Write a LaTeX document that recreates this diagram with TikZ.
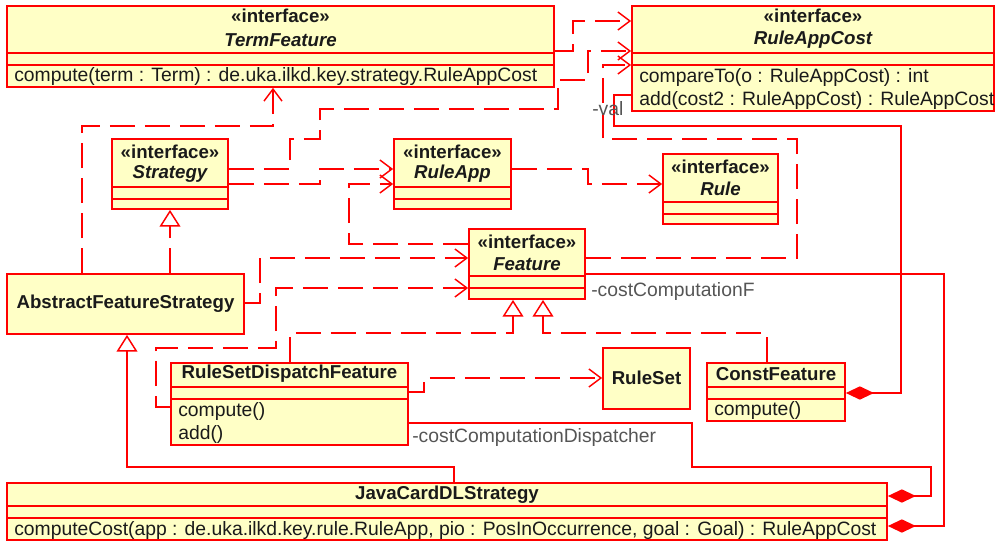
\documentclass[tikz,border=0pt]{standalone}
\usepackage{fontspec}
\setmainfont{Liberation Sans}
\usetikzlibrary{arrows.meta,fit}
\definecolor{umlfill}{HTML}{FFFFC6}
\definecolor{umlred}{HTML}{FF0000}
\definecolor{txt}{HTML}{1A1A1A}
\definecolor{lbl}{HTML}{555555}
% class box spanning two corner points (pixel grid, y downwards)
\newcommand\umlbox[5]{\node[cls, fit={(#2,#3) (#4,#5)}] (#1) {};}
% compartment separator of a box at height #2
\newcommand\umlsep[2]{\draw[sepline] (#1.west |- 0,#2) -- (#1.east |- 0,#2);}
\begin{document}
\begin{tikzpicture}[x=0.75pt,y=-0.75pt,
  cls/.style={draw=umlred, fill=umlfill, line width=1.3pt, rectangle, inner sep=0pt},
  sepline/.style={draw=umlred, line width=1.3pt},
  basefont/.style={text=txt, inner sep=0pt},
  stereo/.style={basefont, font=\bfseries\fontsize{14}{16}\selectfont},
  iname/.style={basefont, font=\bfseries\itshape\fontsize{14}{16}\selectfont},
  cname/.style={basefont, font=\bfseries\fontsize{14}{16}\selectfont},
  member/.style={basefont, font=\fontsize{14.5}{16}\selectfont, anchor=west},
  role/.style={inner sep=0pt, text=lbl, font=\fontsize{14.5}{16}\selectfont, anchor=west},
  conn/.style={draw=umlred, line width=1.1pt},
  dep/.style={conn, dash pattern=on 18.75pt off 7.5pt, -{Straight Barb[length=9pt,width=13.5pt]}},
  real/.style={conn, dash pattern=on 18.75pt off 7.5pt, -{Triangle[length=12.5pt,width=15.5pt,fill=white]}},
  gen/.style={conn, -{Triangle[length=12.5pt,width=15.5pt,fill=white]}},
  comp/.style={conn, {Diamond[length=21pt,width=10pt]}-},
]
\useasboundingbox (0,0) rectangle (996,543);

% ---------- classes ----------
\umlbox{tf}{7}{6}{554}{87}
\umlsep{tf}{53}\umlsep{tf}{65}
\node[stereo] (tfst) at (280.5,16) {«interface»};
\node[iname] (tfnm) at (280.5,40) {TermFeature};
\node[member] (tfm1) at (14,76) {compute(term : Term) : de.uka.ilkd.key.strategy.RuleAppCost};

\umlbox{rac}{632}{6}{994}{111}
\umlsep{rac}{53}\umlsep{rac}{65}
\node[stereo] (racst) at (813,16) {«interface»};
\node[iname] (racnm) at (813,40) {RuleAppCost};
\node[member] (racm1) at (639,77) {compareTo(o : RuleAppCost) : int};
\node[member] (racm2) at (639,100) {add(cost2 : RuleAppCost) : RuleAppCost};

\umlbox{str}{112}{139}{228}{209}
\umlsep{str}{187}\umlsep{str}{199}
\node[stereo] (strst) at (170,152) {«interface»};
\node[iname] (strnm) at (170,174) {Strategy};

\umlbox{ra}{394}{139}{511}{209}
\umlsep{ra}{187}\umlsep{ra}{199}
\node[stereo] (rast) at (452.5,152) {«interface»};
\node[iname] (ranm) at (452.5,174) {RuleApp};

\umlbox{rule}{663}{154}{778}{224}
\umlsep{rule}{202}\umlsep{rule}{214}
\node[stereo] (rulest) at (720.5,167) {«interface»};
\node[iname] (rulenm) at (720.5,189) {Rule};

\umlbox{feat}{469}{229}{585}{299}
\umlsep{feat}{276}\umlsep{feat}{288}
\node[stereo] (featst) at (527,242) {«interface»};
\node[iname] (featnm) at (527,264) {Feature};

\umlbox{afs}{7}{274}{244}{334}
\node[cname] (afsnm) at (125.5,304) {AbstractFeatureStrategy};

\umlbox{rsdf}{171}{363}{408}{445}
\umlsep{rsdf}{387}\umlsep{rsdf}{399}
\node[cname] (rsdfnm) at (289.5,374) {RuleSetDispatchFeature};
\node[member] (rsdfm1) at (178,411) {compute()};
\node[member] (rsdfm2) at (178,434) {add()};

\umlbox{rs}{603}{348}{690}{409}
\node[cname] (rsnm) at (646.5,378) {RuleSet};

\umlbox{cf}{707}{363}{845}{421}
\umlsep{cf}{387}\umlsep{cf}{399}
\node[cname] (cfnm) at (776,374) {ConstFeature};
\node[member] (cfm1) at (714,410) {compute()};

\umlbox{jc}{7}{483}{887}{540}
\umlsep{jc}{506}\umlsep{jc}{518}
\node[cname] (jcnm) at (447,494.5) {JavaCardDLStrategy};
\node[member] (jcm1) at (14,530) {computeCost(app : de.uka.ilkd.key.rule.RuleApp, pio : PosInOccurrence, goal : Goal) : RuleAppCost};

% ---------- dependencies ----------
\draw[dep] (tf.east |- 0,51) -- (573,51) -- (573,21) -- (rac.west |- 0,21);
\draw[dep] (str.east |- 0,169) -- (290,169) -- (290,139) -- (320,139) -- (320,109)
  -- (558,109) -- (558,80) -- (588,80) -- (588,51) -- (rac.west |- 0,51);
\draw[dep] (feat.east |- 0,258) -- (797,258) -- (797,139) -- (603,139) -- (603,65) -- (rac.west |- 0,65);
\draw[dep] (str.east |- 0,184) -- (320,184) -- (320,169) -- (ra.west |- 0,169);
\draw[dep] (feat.west |- 0,244) -- (349,244) -- (349,184) -- (ra.west |- 0,184);
\draw[dep] (ra.east |- 0,169) -- (588,169) -- (588,184) -- (rule.west |- 0,184);
\draw[dep] (afs.north -| 82,0) -- (82,126) -- (273,126) -- (tf.south -| 273,0);
\draw[dep] (afs.east |- 0,303) -- (260,303) -- (260,258) -- (feat.west |- 0,258);
\draw[dep] (rsdf.west |- 0,407) -- (156,407) -- (156,348) -- (276,348) -- (276,288) -- (feat.west |- 0,288);
\draw[dep] (rsdf.east |- 0,392) -- (424,392) -- (424,378) -- (rs.west |- 0,378);

% ---------- realizations and generalization ----------
\draw[real] (afs.north -| str.south) -- (str.south);
\draw[real] (rsdf.north -| 290,0) -- (290,333) -- (513,333) -- (feat.south -| 513,0);
\draw[real] (cf.north -| 767,0) -- (767,333) -- (543,333) -- (feat.south -| 543,0);
\draw[gen] (jc.north -| 454,0) -- (454,467) -- (127,467) -- (afs.south -| 127,0);

% ---------- compositions ----------
\draw[comp] (cf.east |- 0,393) -- (901,393) -- (901,126) -- (614,126) -- (614,95) -- (rac.west |- 0,95);
\draw[comp] (jc.east |- 0,526) -- (944,526) -- (944,274) -- (feat.east |- 0,274);
\draw[comp] (jc.east |- 0,496) -- (931,496) -- (931,467) -- (692,467) -- (692,423) -- (rsdf.east |- 0,423);

\node[role] (rval) at (592,109) {-val};
\node[role] (rccf) at (591,291) {-costComputationF};
\node[role] (rccd) at (412,437) {-costComputationDispatcher};
\end{tikzpicture}
\end{document}
